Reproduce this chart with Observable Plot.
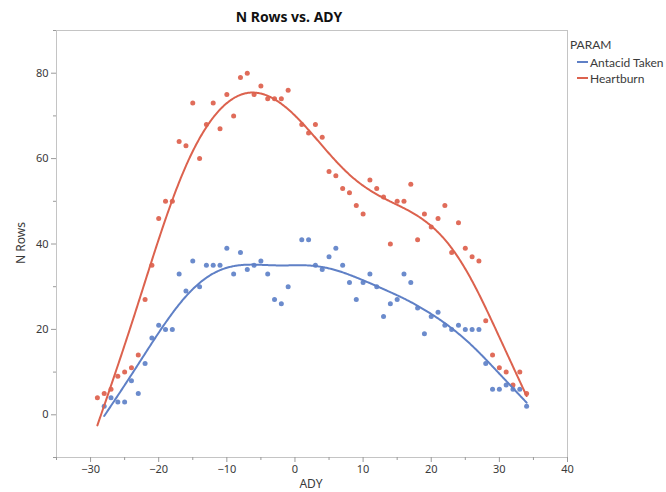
<!DOCTYPE html>
<html>
<head>
<meta charset="utf-8">
<script src="https://cdn.jsdelivr.net/npm/d3@7"></script>
<script src="https://cdn.jsdelivr.net/npm/@observablehq/plot@0.6"></script>
<style>
  html, body { margin: 0; padding: 0; background: #fff; }
  #wrap { position: relative; width: 666px; height: 492px; overflow: hidden; font-family: "Noto Sans", "Open Sans", sans-serif; color: #3a3a3a; }
  .abs { position: absolute; white-space: nowrap; }
  #title { top: 7px; left: 289px; transform: translateX(-50%); font-weight: bold; font-size: 14px; color: #111; }
  #ylab { left: 20px; top: 243px; transform: translate(-50%, -50%) rotate(-90deg); font-size: 12px; }
  #xlab { left: 311px; top: 477px; line-height: 14px; transform: translateX(-50%); font-size: 12px; }
  #legend { left: 570px; top: 36px; font-size: 12px; font-family: Lato, "Noto Sans", sans-serif; }
  #legend .row { display: flex; align-items: center; height: 16px; }
  #legend .sw { width: 11px; height: 2px; margin-left: 7px; margin-right: 2px; }
</style>
</head>
<body>
<div id="wrap">
  <div id="chart"></div>
  <div id="title" class="abs">N Rows vs. ADY</div>
  <div id="ylab" class="abs">N Rows</div>
  <div id="xlab" class="abs">ADY</div>
  <div id="legend" class="abs"></div>
</div>
<script>
// ---- Data ----
const paramTitle = "PARAM";
const seriesNames = ["Antacid Taken", "Heartburn"];
const seriesColors = ["#6b8bcc", "#e06c5a"];
const lineColors = ["#5f80c6", "#dc624e"];

const antacidDays = [-28,-27,-26,-25,-24,-23,-22,-21,-20,-19,-18,-17,-16,-15,-14,-13,-12,-11,-10,-9,-8,-7,-6,-5,-4,-3,-2,-1,
  1,2,3,4,5,6,7,8,9,10,11,12,13,14,15,16,17,18,19,20,21,22,23,24,25,26,27,28,29,30,31,32,33,34];
const antacidRows = [2,4,3,3,8,5,12,18,21,20,20,33,29,36,30,35,35,35,39,33,38,34,35,36,33,27,26,30,
  41,41,35,34,37,39,35,31,27,31,33,30,23,26,27,33,31,25,19,23,24,21,20,21,20,20,20,12,6,6,7,6,6,2];

const heartburnDays = [-29,-28,-27,-26,-25,-24,-23,-22,-21,-20,-19,-18,-17,-16,-15,-14,-13,-12,-11,-10,-9,-8,-7,-6,-5,-4,-3,-2,-1,
  1,2,3,4,5,6,7,8,9,10,11,12,13,14,15,16,17,18,19,20,21,22,23,24,25,26,27,28,29,30,31,32,33,34];
const heartburnRows = [4,5,6,9,10,11,14,27,35,46,50,50,64,63,73,60,68,73,67,75,70,79,80,75,77,74,74,74,76,
  68,66,68,65,57,56,53,52,49,47,55,53,51,40,50,50,54,41,47,44,46,49,38,45,39,37,36,22,14,11,10,7,10,5];

const xTicks = [-30,-20,-10,0,10,20,30,40];
const xMinor = [-35,-25,-15,-5,5,15,25,35];
const yTicks = [0,20,40,60,80];
const yMinor = [-10,10,30,50,70,90];

// ---- Cubic smoothing spline (penalised, standardised x, lambda 0.05) ----
function solve(A, b) {
  const n = b.length;
  const M = A.map((r, i) => [...r, b[i]]);
  for (let c = 0; c < n; c++) {
    let p = c;
    for (let r = c + 1; r < n; r++) if (Math.abs(M[r][c]) > Math.abs(M[p][c])) p = r;
    [M[c], M[p]] = [M[p], M[c]];
    for (let r = c + 1; r < n; r++) {
      const f = M[r][c] / M[c][c];
      if (f === 0) continue;
      for (let k = c; k <= n; k++) M[r][k] -= f * M[c][k];
    }
  }
  const x = new Array(n).fill(0);
  for (let r = n - 1; r >= 0; r--) {
    let s = M[r][n];
    for (let k = r + 1; k < n; k++) s -= M[r][k] * x[k];
    x[r] = s / M[r][r];
  }
  return x;
}
function smoothSpline(xsRaw, ys, lambda) {
  const n = xsRaw.length;
  const mean = d3.mean(xsRaw), sd = d3.deviation(xsRaw);
  const xs = xsRaw.map(v => (v - mean) / sd);
  const h = [];
  for (let i = 0; i < n - 1; i++) h.push(xs[i + 1] - xs[i]);
  const m = n - 2;
  const Q = Array.from({length: n}, () => new Array(m).fill(0));
  for (let j = 0; j < m; j++) {
    Q[j][j] = 1 / h[j];
    Q[j + 1][j] = -1 / h[j] - 1 / h[j + 1];
    Q[j + 2][j] = 1 / h[j + 1];
  }
  const A = Array.from({length: m}, () => new Array(m).fill(0));
  for (let j = 0; j < m; j++) {
    A[j][j] += (h[j] + h[j + 1]) / 3;
    if (j + 1 < m) { A[j][j + 1] += h[j + 1] / 6; A[j + 1][j] += h[j + 1] / 6; }
  }
  for (let a = 0; a < m; a++) for (let b = Math.max(0, a - 2); b <= Math.min(m - 1, a + 2); b++) {
    let s = 0;
    for (let i = 0; i < n; i++) s += Q[i][a] * Q[i][b];
    A[a][b] += lambda * s;
  }
  const rhs = new Array(m).fill(0);
  for (let j = 0; j < m; j++) { let s = 0; for (let i = 0; i < n; i++) s += Q[i][j] * ys[i]; rhs[j] = s; }
  const gamma = solve(A, rhs);
  const g = ys.map((y, i) => { let s = 0; for (let j = 0; j < m; j++) s += Q[i][j] * gamma[j]; return y - lambda * s; });
  const G = [0, ...gamma, 0];
  return function(xr) {
    const u = (xr - mean) / sd;
    let i = 0;
    while (i < n - 2 && u > xs[i + 1]) i++;
    const hi = h[i], a = u - xs[i], b = xs[i + 1] - u;
    return (a * g[i + 1] + b * g[i]) / hi - (a * b / 6) * ((1 + a / hi) * G[i + 1] + (1 + b / hi) * G[i]);
  };
}
function curve(days, rows, name) {
  const f = smoothSpline(days, rows, 0.05);
  const lo = d3.min(days), hi = d3.max(days);
  const out = [];
  for (let k = 0; k <= (hi - lo) * 8; k++) { const x = lo + k / 8; out.push({x, y: f(x), name}); }
  return out;
}

const antacidPts = antacidDays.map((d, i) => ({x: d, y: antacidRows[i], name: seriesNames[0]}));
const heartburnPts = heartburnDays.map((d, i) => ({x: d, y: heartburnRows[i], name: seriesNames[1]}));
const antacidFit = curve(antacidDays, antacidRows, seriesNames[0]);
const heartburnFit = curve(heartburnDays, heartburnRows, seriesNames[1]);

const axisStroke = "#9a9a9a";
const chart = Plot.plot({
  width: 666, height: 492,
  marginTop: 30, marginBottom: 35, marginLeft: 56, marginRight: 99,
  style: {fontFamily: '"Noto Sans", "Open Sans", sans-serif', fontSize: "11px", color: "#3a3a3a", background: "#fff"},
  x: {domain: [-35, 40]},
  y: {domain: [-10, 90]},
  marks: [
    Plot.frame({stroke: "#c4c4c4"}),
    Plot.axisX({ticks: xMinor, tickSize: 3, text: null, label: null, stroke: axisStroke}),
    Plot.axisX({ticks: xTicks, tickSize: 5, tickPadding: 3, label: null, stroke: axisStroke}),
    Plot.axisY({ticks: yMinor, tickSize: 3, text: null, label: null, stroke: axisStroke}),
    Plot.axisY({ticks: yTicks, tickSize: 5, tickPadding: 3, label: null, stroke: axisStroke}),
    Plot.dot(antacidPts, {x: "x", y: "y", r: 2.5, fill: seriesColors[0], stroke: "none"}),
    Plot.dot(heartburnPts, {x: "x", y: "y", r: 2.5, fill: seriesColors[1], stroke: "none"}),
    Plot.line(antacidFit, {x: "x", y: "y", stroke: lineColors[0], strokeWidth: 2}),
    Plot.line(heartburnFit, {x: "x", y: "y", stroke: lineColors[1], strokeWidth: 2})
  ]
});
document.getElementById("chart").appendChild(chart);

const legend = document.getElementById("legend");
legend.innerHTML = `<div class="row" style="margin-bottom:2px">${paramTitle}</div>` +
  seriesNames.map((n, i) => `<div class="row"><span class="sw" style="background:${lineColors[i]}"></span><span>${n}</span></div>`).join("");
</script>
</body>
</html>
